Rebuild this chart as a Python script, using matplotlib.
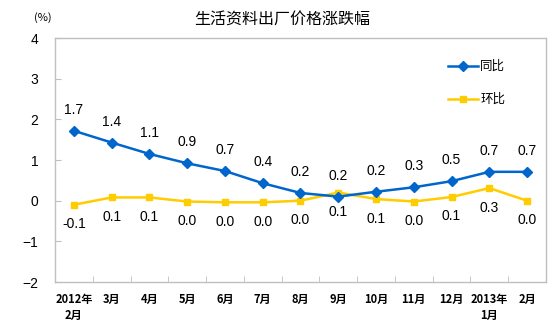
"""生活资料出厂价格涨跌幅 line chart (同比 / 环比)."""
import matplotlib
matplotlib.use("Agg")
import matplotlib.pyplot as plt
import numpy as np

months = ["2012年\n2月", "3月", "4月", "5月", "6月", "7月", "8月", "9月",
          "10月", "11月", "12月", "2013年\n1月", "2月"]
yoy = [1.72, 1.43, 1.15, 0.92, 0.73, 0.43, 0.19, 0.10, 0.22, 0.33, 0.48, 0.71, 0.71]
yoy_labels = ["1.7", "1.4", "1.1", "0.9", "0.7", "0.4", "0.2", "0.2", "0.2", "0.3", "0.5", "0.7", "0.7"]
mom = [-0.10, 0.08, 0.08, -0.02, -0.04, -0.04, 0.0, 0.20, 0.04, -0.02, 0.09, 0.31, 0.0]
mom_labels = ["-0.1", "0.1", "0.1", "0.0", "0.0", "0.0", "0.0", "0.1", "0.1", "0.0", "0.1", "0.3", "0.0"]

BLUE = "#0066CC"
YELLOW = "#FFCC00"
GREY = "#BFBFBF"
CJK = ["Noto Sans CJK SC", "DejaVu Sans"]
NUM = ["Liberation Sans", "DejaVu Sans"]

plt.rcParams.update({"font.family": NUM, "font.size": 10})

fig = plt.figure(figsize=(5.52, 3.31), dpi=100)
ax = fig.add_axes([0.0996, 0.148, 0.8895, 0.737])
x = np.arange(len(months))

ax.plot(x, yoy, color=BLUE, lw=1.8, marker="D", ms=5.5, label="同比", zorder=3)
ax.plot(x, mom, color=YELLOW, lw=1.8, marker="s", ms=5, label="环比", zorder=2)

for xi, yi, t in zip(x, yoy, yoy_labels):
    ax.annotate(t, (xi, yi), xytext=(0, 15), textcoords="offset points",
                ha="center", va="center", fontsize=10, family=NUM)
for xi, yi, t in zip(x, mom, mom_labels):
    ax.annotate(t, (xi, yi), xytext=(0, -14), textcoords="offset points",
                ha="center", va="center", fontsize=10, family=NUM)

ax.set_xlim(-0.5, len(months) - 0.5)
ax.set_ylim(-2, 4)
ax.set_yticks(range(-2, 5))
ax.tick_params(axis="y", direction="in", length=4, color=GREY, pad=12, labelsize=10)
ax.set_xticks(x)
ax.set_xticklabels(months, family=CJK, fontsize=8, fontweight="bold", linespacing=1.3)
ax.tick_params(axis="x", length=0, pad=8)
ax.set_xticks(np.arange(0.5, len(months) - 1, 1.0), minor=True)
ax.tick_params(axis="x", which="minor", direction="in", length=4, color=GREY)
for s in ax.spines.values():
    s.set_color(GREY)
    s.set_linewidth(1.0)

leg = ax.legend(loc="upper left", bbox_to_anchor=(0.80, 0.91), frameon=False,
                prop={"family": CJK, "size": 9}, handlelength=2.4,
                handletextpad=0.2, labelspacing=1.6, borderpad=0, borderaxespad=0)

fig.text(0.511, 0.943, "生活资料出厂价格涨跌幅", ha="center", va="center",
         family=CJK, fontsize=11.5)
fig.text(0.078, 0.946, "(%)", ha="center", va="center", family=CJK, fontsize=8)

fig.savefig("out.png", dpi=100)
